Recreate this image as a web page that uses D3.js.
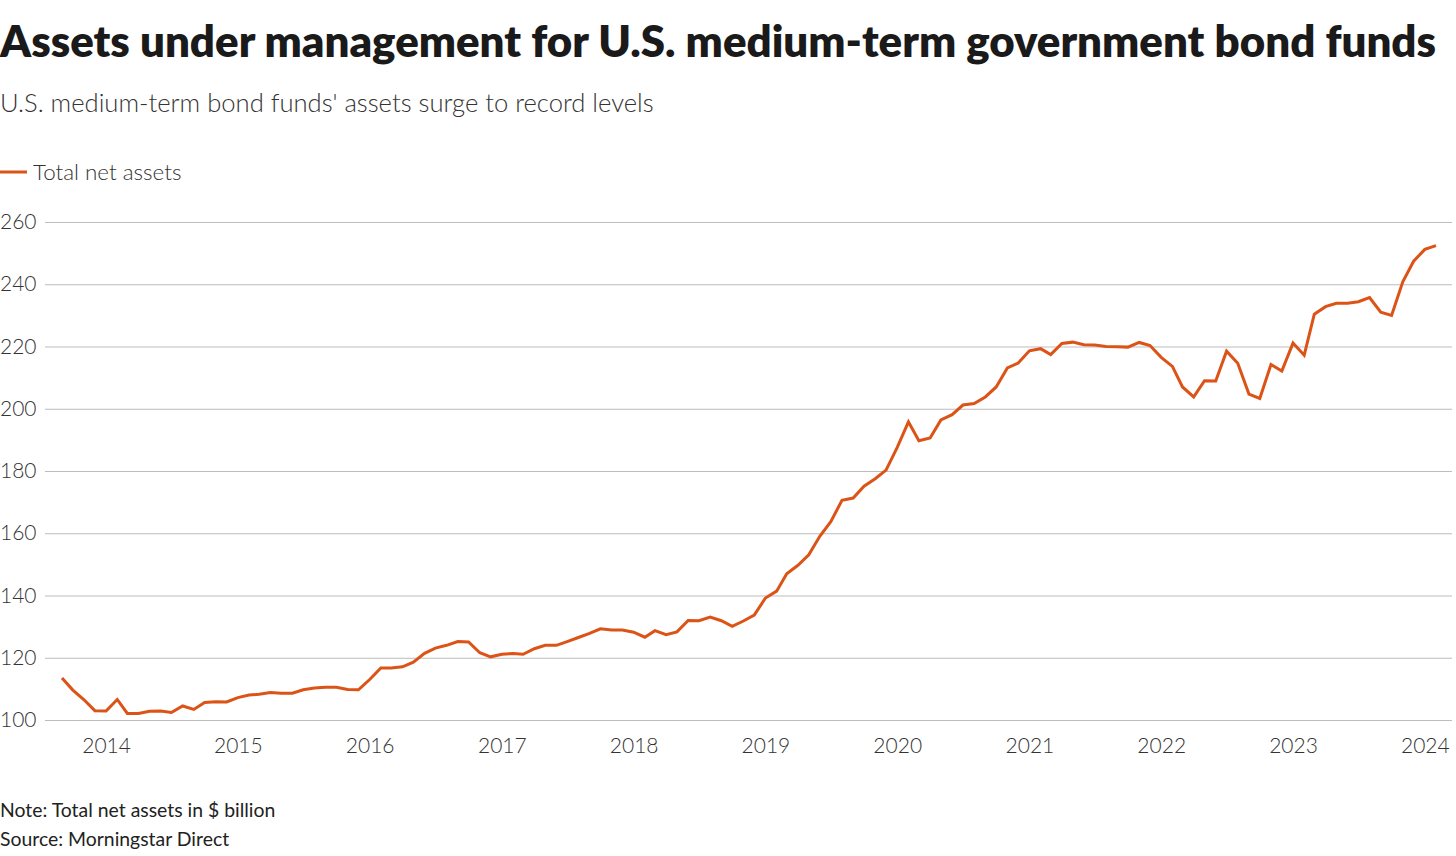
<!DOCTYPE html>
<html>
<head>
<meta charset="utf-8">
<script src="https://cdn.jsdelivr.net/npm/d3@7"></script>
<style>
  body { margin: 0; background: #fff; }
  svg { display: block; font-family: Lato, sans-serif; }
</style>
</head>
<body>
<svg id="chart" width="1456" height="856"></svg>
<script>
// Monthly total net assets, $ billion, Sep 2013 .. Feb 2024
const startMonth = new Date(2013, 8, 1);
const assets = [
  113.5, 109.6, 106.5, 103.0, 102.9, 106.6, 102.1, 102.1, 102.8, 102.9, 102.4, 104.5,
  103.4, 105.6, 105.9, 105.8, 107.2, 108.0, 108.3, 108.8, 108.6, 108.6, 109.7, 110.3,
  110.5, 110.5, 109.8, 109.7, 113.0, 116.7, 116.7, 117.1, 118.6, 121.4, 123.1, 124.0,
  125.2, 125.1, 121.6, 120.3, 121.1, 121.4, 121.1, 122.9, 124.0, 124.0, 125.2, 126.5,
  127.8, 129.3, 128.9, 128.9, 128.2, 126.6, 128.7, 127.4, 128.3, 132.0, 131.9, 133.1,
  131.9, 130.1, 131.8, 133.7, 139.2, 141.4, 147.0, 149.7, 153.1, 159.1, 163.7, 170.6,
  171.3, 175.1, 177.5, 180.3, 187.6, 195.8, 189.7, 190.6, 196.4, 198.1, 201.2, 201.7,
  203.8, 207.0, 213.1, 214.7, 218.6, 219.3, 217.4, 221.0, 221.4, 220.6, 220.5, 220.0,
  219.9, 219.8, 221.3, 220.3, 216.5, 213.6, 207.0, 203.8, 209.0, 208.9, 218.5, 214.6,
  204.7, 203.3, 214.2, 212.1, 221.1, 217.2, 230.4, 232.8, 233.9, 233.9, 234.4, 235.7,
  231.0, 230.0, 240.8, 247.4, 251.2, 252.4
];
const dates = assets.map((v, i) => new Date(startMonth.getFullYear(), startMonth.getMonth() + i, 1));
const data = dates.map((d, i) => ({ date: d, value: assets[i] }));

const yTicks = [100, 120, 140, 160, 180, 200, 220, 240, 260];
const xTickYears = [2014, 2015, 2016, 2017, 2018, 2019, 2020, 2021, 2022, 2023, 2024];

const titleText = 'Assets under management for U.S. medium-term government bond funds';
const subtitleText = "U.S. medium-term bond funds' assets surge to record levels";
const legendText = 'Total net assets';
const noteText = 'Note: Total net assets in $ billion';
const sourceText = 'Source: Morningstar Direct';

const lineColor = '#dc5317';
const svg = d3.select('#chart');

const x = d3.scaleTime()
  .domain([dates[0], dates[dates.length - 1]])
  .range([62, 1436]);

const y = d3.scaleLinear()
  .domain([100, 260])
  .range([720, 222]);

// Title block
svg.append('text')
  .attr('x', 0).attr('y', 57)
  .attr('font-size', '43.8px').attr('font-weight', 800)
  .attr('fill', '#1a1a1a')
  .text(titleText);

svg.append('text')
  .attr('x', 0).attr('y', 112)
  .attr('font-size', '25.6px').attr('font-weight', 300)
  .attr('fill', '#333')
  .text(subtitleText);

// Legend
svg.append('line')
  .attr('x1', 0).attr('x2', 27)
  .attr('y1', 172).attr('y2', 172)
  .attr('stroke', lineColor).attr('stroke-width', 3);

svg.append('text')
  .attr('x', 33).attr('y', 180)
  .attr('font-size', '22.4px').attr('font-weight', 300)
  .attr('fill', '#333')
  .text(legendText);

// Y grid + labels
const yAxis = svg.append('g')
  .call(d3.axisLeft(y).tickValues(yTicks).tickSize(0).tickPadding(0));
yAxis.select('.domain').remove();
yAxis.selectAll('.tick line')
  .attr('x1', 45).attr('x2', 1452)
  .attr('stroke', '#bdbdbd').attr('stroke-width', 1.2);
yAxis.selectAll('.tick text')
  .attr('x', 0)
  .attr('text-anchor', 'start')
  .attr('font-family', 'Lato, sans-serif')
  .attr('font-size', '21px').attr('font-weight', 300)
  .attr('fill', '#333');

// X labels
const xAxis = svg.append('g')
  .attr('transform', 'translate(0,720)')
  .call(d3.axisBottom(x)
    .tickValues(xTickYears.map(yr => new Date(yr, 0, 1)))
    .tickFormat(d3.timeFormat('%Y'))
    .tickSize(0).tickPadding(18));
xAxis.select('.domain').remove();
xAxis.selectAll('.tick text')
  .attr('font-family', 'Lato, sans-serif')
  .attr('font-size', '21px').attr('font-weight', 300)
  .attr('fill', '#333');

// Line
const line = d3.line()
  .x(d => x(d.date))
  .y(d => y(d.value));

svg.append('path')
  .datum(data)
  .attr('fill', 'none')
  .attr('stroke', lineColor)
  .attr('stroke-width', 3)
  .attr('stroke-linejoin', 'miter')
  .attr('d', line);

// Footer
svg.append('text')
  .attr('x', 0).attr('y', 817)
  .attr('font-size', '19.4px').attr('font-weight', 400)
  .attr('fill', '#222')
  .text(noteText);

svg.append('text')
  .attr('x', 0).attr('y', 846)
  .attr('font-size', '19.4px').attr('font-weight', 400)
  .attr('fill', '#222')
  .text(sourceText);
</script>
</body>
</html>
